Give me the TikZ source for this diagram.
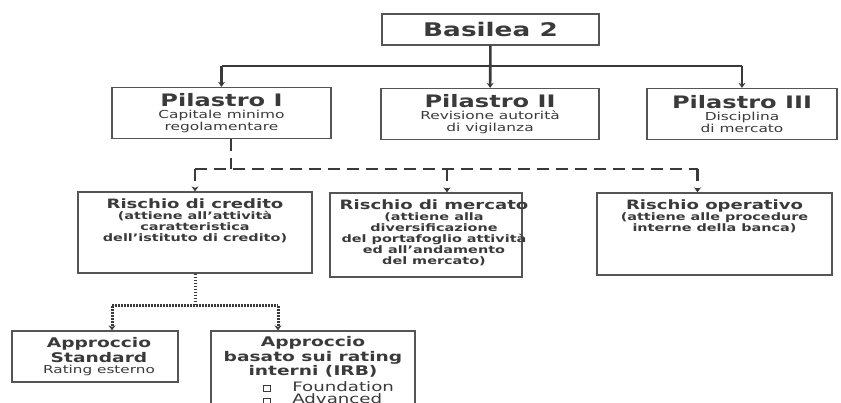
\documentclass[tikz,border=0pt]{standalone}
\usepackage{fontspec}
\setmainfont[FakeStretch=1.4]{DejaVu Sans}
\usetikzlibrary{positioning,calc,arrows.meta}
\lineskiplimit=-100pt
\definecolor{ink}{HTML}{3A3A3A}
\definecolor{frame}{HTML}{555555}
\tikzset{
box/.style={draw=frame,line width=1.3pt,inner sep=0pt},
txt/.style={text=ink,align=center,inner sep=0pt},
headbox/.style={box,txt,minimum width=217pt,minimum height=31pt,font=\fontsize{18.8}{20}\selectfont\bfseries},
pil/.style={box,txt,minimum height=51pt,font=\fontsize{11}{12}\selectfont},
rtxt/.style={txt,font=\fontsize{10.3}{11}\selectfont\bfseries},
atxt/.style={txt,font=\fontsize{13.3}{14.5}\selectfont\bfseries},
link/.style={draw=ink,line width=2.6pt},
dashlink/.style={link,dash pattern=on 12pt off 7pt},
dotlink/.style={draw=ink,line width=3pt,dash pattern=on 1.6pt off 1.4pt},
arr/.style={-{Stealth[length=5pt,width=7pt]}}
}
\newcommand{\ptitle}[1]{{\fontsize{17.2}{17.2}\selectfont\bfseries #1}}
\newcommand{\rtitle}[1]{{\fontsize{12.9}{12.9}\selectfont #1}}
\newcommand{\sqbullet}{{\fboxsep=0pt\fboxrule=0.9pt\fbox{\rule{0pt}{5pt}\rule{6.5pt}{0pt}}}}
\begin{document}
\begin{tikzpicture}[x=1pt,y=-1pt]
\useasboundingbox (0,0) rectangle (841,403);
\clip (0,0) rectangle (841,403);
% Basilea 2 e pilastri
\node[headbox] (basilea) at (490.5,29.5) {Basilea 2};
\node[pil,minimum width=219pt] (p1) at (221.5,113) {\ptitle{Pilastro I}\\Capitale minimo\\regolamentare};
\node[pil,minimum width=218pt] (p2) at (490,114) {\ptitle{Pilastro II}\\Revisione autorità\\di vigilanza};
\node[pil,minimum width=190pt] (p3) at (742,114) {\ptitle{Pilastro III}\\Disciplina\\di mercato};
\coordinate (bus) at (490,66);
\draw[link,arr] (basilea) -- (p2);
\draw[link] (bus -| p1) -- (bus -| p3);
\foreach \p in {p1,p3}
  \draw[link,arr] (bus -| \p) -- (\p);
% rischi
\node[box,minimum width=234pt,minimum height=81pt] (credito) at (195,232.5) {};
\node[box,minimum width=192pt,minimum height=84pt] (mercato) at (426,235) {};
\node[box,minimum width=235pt,minimum height=82pt] (operativo) at (714.5,234) {};
\node[rtxt,below=7pt of credito.north] (credito-t) {\rtitle{Rischio di credito}\\(attiene all’attività\\caratteristica\\dell’istituto di credito)};
\node[rtxt,below=7pt of mercato.north,xshift=8pt] (mercato-t) {\rtitle{Rischio di mercato}\\(attiene alla\\diversificazione\\del portafoglio attività\\ed all’andamento\\del mercato)};
\node[rtxt,below=7pt of operativo.north] (operativo-t) {\rtitle{Rischio operativo}\\(attiene alle procedure\\interne della banca)};
\coordinate (rischi) at (231,169);
\draw[dashlink] ($(p1.south)+(9.5,0)$) -- (rischi);
\draw[dashlink] (rischi -| credito) -- ($(rischi -| operativo)+(-17,0)$);
\draw[dashlink,arr] (rischi -| credito) -- (credito);
\draw[dashlink,arr] ($(rischi -| mercato)+(21,0)$) -- ($(mercato.north)+(21,0)$);
\draw[dashlink,arr] ($(rischi -| operativo)+(-17,0)$) -- ($(operativo.north)+(-17,0)$);
% approcci
\node[box,minimum width=166pt,minimum height=51pt] (standard) at (95,356.5) {};
\node[box,minimum width=204pt,minimum height=109pt] (irb) at (313,385.5) {};
\node[atxt,below=7pt of standard.north,xshift=4pt] (standard-t) {Approccio\\Standard\\[-3pt]{\mdseries\fontsize{10.9}{11}\selectfont Rating esterno}};
\node[atxt,below=6pt of irb.north] (irb-t) {Approccio\\basato sui rating\\interni (IRB)\\[1pt]
  {\mdseries\fontsize{13}{14.5}\selectfont\makebox[200pt][l]{\hspace{50pt}\sqbullet\hspace{21pt}Foundation}}\\[-2pt]
  {\mdseries\fontsize{13}{14.5}\selectfont\makebox[200pt][l]{\hspace{50pt}\sqbullet\hspace{21pt}Advanced}}};
\coordinate (approcci) at (195,306);
\draw[dotlink] (credito) -- (approcci);
\draw[dotlink] ($(approcci -| standard)+(17,0)$) -- ($(approcci -| irb)+(-35,0)$);
\draw[dotlink,arr] ($(approcci -| standard)+(17,0)$) -- ($(standard.north)+(17,0)$);
\draw[dotlink,arr] ($(approcci -| irb)+(-35,0)$) -- ($(irb.north)+(-35,0)$);
\end{tikzpicture}
\end{document}
